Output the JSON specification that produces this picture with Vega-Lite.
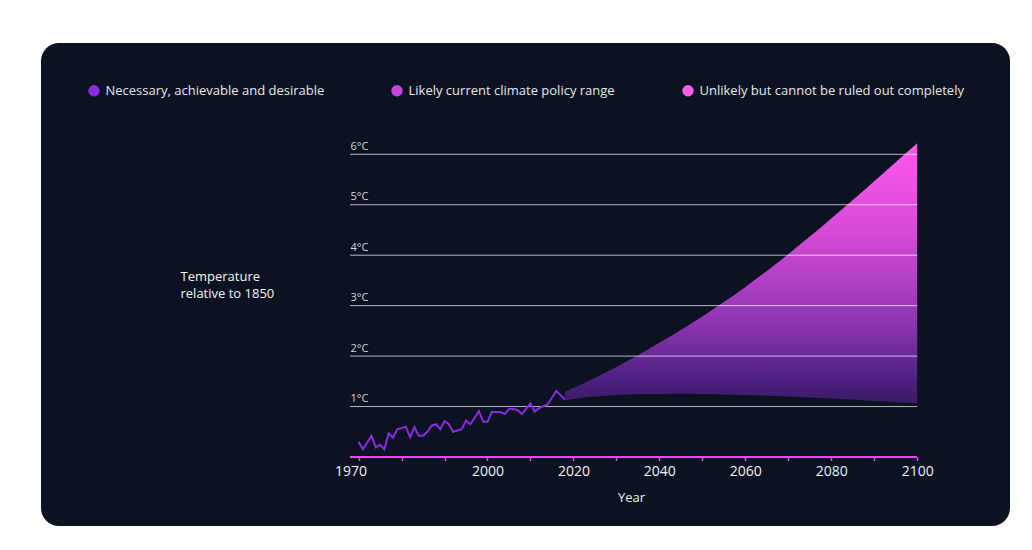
{
  "$schema": "https://vega.github.io/schema/vega-lite/v6.json",
  "width": 969,
  "height": 483,
  "autosize": {"type": "none"},
  "padding": {"left": 41, "top": 43, "right": 22, "bottom": 24},
  "background": "#ffffff",
  "config": {
    "font": "Open Sans",
    "view": {"fill": "#0b1222", "stroke": null, "cornerRadius": 18}
  },
  "datasets": {
    "observed": [
      {"year": 1970, "temp": 0.30}, {"year": 1971, "temp": 0.15}, {"year": 1973, "temp": 0.42},
      {"year": 1974, "temp": 0.19}, {"year": 1975, "temp": 0.24}, {"year": 1976, "temp": 0.15},
      {"year": 1977, "temp": 0.47}, {"year": 1978, "temp": 0.38}, {"year": 1979, "temp": 0.55},
      {"year": 1981, "temp": 0.60}, {"year": 1982, "temp": 0.39}, {"year": 1983, "temp": 0.59},
      {"year": 1984, "temp": 0.42}, {"year": 1985, "temp": 0.42}, {"year": 1986, "temp": 0.50},
      {"year": 1987, "temp": 0.62}, {"year": 1988, "temp": 0.65}, {"year": 1989, "temp": 0.55},
      {"year": 1990, "temp": 0.71}, {"year": 1991, "temp": 0.65}, {"year": 1992, "temp": 0.50},
      {"year": 1994, "temp": 0.55}, {"year": 1995, "temp": 0.72}, {"year": 1996, "temp": 0.65},
      {"year": 1998, "temp": 0.91}, {"year": 1999, "temp": 0.70}, {"year": 2000, "temp": 0.70},
      {"year": 2001, "temp": 0.89}, {"year": 2003, "temp": 0.89}, {"year": 2004, "temp": 0.85},
      {"year": 2005, "temp": 0.95}, {"year": 2006, "temp": 0.95}, {"year": 2007, "temp": 0.93},
      {"year": 2008, "temp": 0.85}, {"year": 2010, "temp": 1.06}, {"year": 2011, "temp": 0.90},
      {"year": 2012, "temp": 0.97}, {"year": 2014, "temp": 1.04}, {"year": 2016, "temp": 1.31},
      {"year": 2018, "temp": 1.14}
    ],
    "projection": [
      {"year": 2018, "upper": 1.29, "lower": 1.12},
      {"year": 2020, "upper": 1.366, "lower": 1.15},
      {"year": 2025, "upper": 1.568, "lower": 1.20},
      {"year": 2030, "upper": 1.786, "lower": 1.23},
      {"year": 2035, "upper": 2.019, "lower": 1.245},
      {"year": 2040, "upper": 2.264, "lower": 1.25},
      {"year": 2045, "upper": 2.519, "lower": 1.255},
      {"year": 2050, "upper": 2.787, "lower": 1.25},
      {"year": 2055, "upper": 3.07, "lower": 1.24},
      {"year": 2060, "upper": 3.37, "lower": 1.23},
      {"year": 2065, "upper": 3.688, "lower": 1.215},
      {"year": 2070, "upper": 4.02, "lower": 1.20},
      {"year": 2075, "upper": 4.368, "lower": 1.18},
      {"year": 2080, "upper": 4.728, "lower": 1.16},
      {"year": 2085, "upper": 5.095, "lower": 1.14},
      {"year": 2090, "upper": 5.468, "lower": 1.11},
      {"year": 2095, "upper": 5.843, "lower": 1.09},
      {"year": 2100, "upper": 6.218, "lower": 1.06}
    ],
    "gridlines": [
      {"value": 1, "from": 1968, "to": 2100}, {"value": 2, "from": 1968, "to": 2100},
      {"value": 3, "from": 1968, "to": 2100}, {"value": 4, "from": 1968, "to": 2100},
      {"value": 5, "from": 1968, "to": 2100}, {"value": 6, "from": 1968, "to": 2100}
    ],
    "baseline": [{"value": 0, "from": 1968, "to": 2100}]
  },
  "encoding": {
    "x": {
      "type": "quantitative",
      "scale": {"domain": [1896.09, 2121.6], "nice": false, "zero": false},
      "title": "Year",
      "axis": {
        "values": [1970, 1980, 1990, 2000, 2010, 2020, 2030, 2040, 2050, 2060, 2070, 2080, 2090, 2100],
        "format": "d",
        "labelExpr": "indexof([1970, 2000, 2020, 2040, 2060, 2080, 2100], datum.value) >= 0 ? datum.label : ''",
        "offset": -69,
        "domain": false,
        "grid": false,
        "tickColor": "#e24ae6",
        "tickSize": 3.5,
        "tickWidth": 1.5,
        "labelColor": "#f0f0f4",
        "labelFontSize": 14,
        "labelPadding": 4,
        "labelOffset": {"condition": {"test": "datum.value == 1970", "value": -8}, "value": 0},
        "labelFlush": false,
        "labelOverlap": false,
        "titleColor": "#f0f0f4",
        "titleFontSize": 13,
        "titleFontWeight": "normal",
        "titleX": 590,
        "titleY": 44,
        "titleAlign": "center",
        "titleBaseline": "alphabetic"
      }
    },
    "y": {
      "type": "quantitative",
      "scale": {"domain": [-1.368, 8.206], "nice": false, "zero": false},
      "title": ["Temperature", "relative to 1850"],
      "axis": {
        "values": [1, 2, 3, 4, 5, 6],
        "labelExpr": "datum.value + '°C'",
        "offset": -309,
        "domain": false,
        "ticks": false,
        "grid": false,
        "labelAlign": "left",
        "labelBaseline": "alphabetic",
        "labelPadding": 0,
        "labelOffset": -5,
        "labelFlush": false,
        "labelOverlap": false,
        "labelColor": "#d4d6dc",
        "labelFontSize": 11,
        "titleAngle": 0,
        "titleAlign": "left",
        "titleBaseline": "alphabetic",
        "titleX": -170,
        "titleY": 237,
        "titleColor": "#f4f4f6",
        "titleFontSize": 13,
        "titleFontWeight": "normal",
        "titleLineHeight": 17
      }
    }
  },
  "layer": [
    {
      "data": {"name": "projection"},
      "mark": {
        "type": "area",
        "interpolate": "monotone",
        "color": {
          "gradient": "linear", "x1": 0, "y1": 0, "x2": 0, "y2": 1,
          "stops": [
            {"offset": 0, "color": "#ff58f0"},
            {"offset": 0.33, "color": "#d84ad9"},
            {"offset": 0.53, "color": "#b23fc6"},
            {"offset": 0.72, "color": "#8432ad"},
            {"offset": 0.91, "color": "#4c2082"},
            {"offset": 1, "color": "#391a62"}
          ]
        }
      },
      "encoding": {
        "x": {"field": "year"},
        "y": {"field": "upper"},
        "y2": {"field": "lower"}
      }
    },
    {
      "data": {"name": "gridlines"},
      "mark": {"type": "rule", "color": "#ffffff", "opacity": 0.7, "strokeWidth": 1},
      "encoding": {
        "x": {"field": "from"},
        "x2": {"field": "to"},
        "y": {"field": "value"}
      }
    },
    {
      "data": {"name": "observed"},
      "mark": {"type": "line", "strokeWidth": 2},
      "encoding": {
        "x": {"field": "year"},
        "y": {"field": "temp"},
        "color": {
          "datum": "Necessary, achievable and desirable",
          "type": "nominal",
          "scale": {
            "domain": ["Necessary, achievable and desirable", "Likely current climate policy range", "Unlikely but cannot be ruled out completely"],
            "range": ["#8a2be2", "#c445e0", "#ff5ce8"]
          },
          "legend": {
            "orient": "none",
            "legendX": 46.5,
            "legendY": 41,
            "direction": "horizontal",
            "title": null,
            "symbolType": "circle",
            "symbolSize": 130,
            "symbolStrokeWidth": 0,
            "labelColor": "#e6e7ec",
            "labelFontSize": 13,
            "labelOffset": 5,
            "labelLimit": 400,
            "columnPadding": 66,
            "padding": 0,
            "encode": {
              "symbols": {
                "update": {
                  "fill": {"scale": "color", "field": "value"},
                  "stroke": {"value": "transparent"},
                  "opacity": {"value": 1}
                }
              }
            }
          }
        }
      }
    },
    {
      "data": {"name": "baseline"},
      "mark": {"type": "rule", "color": "#e24ae6", "strokeWidth": 2},
      "encoding": {
        "x": {"field": "from"},
        "x2": {"field": "to"},
        "y": {"field": "value"}
      }
    }
  ]
}
